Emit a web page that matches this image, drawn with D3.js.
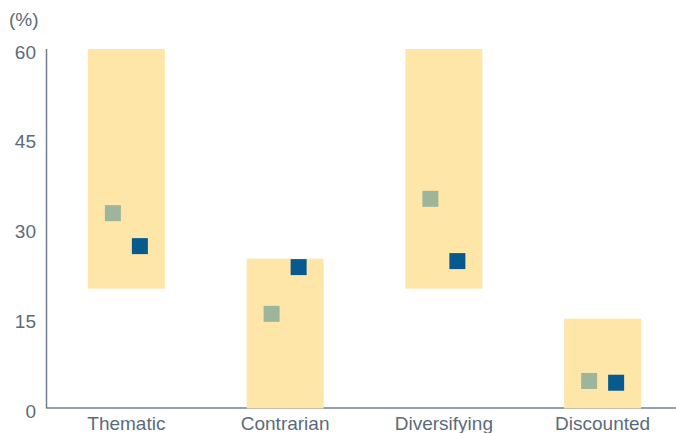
<!DOCTYPE html>
<html>
<head>
<meta charset="utf-8">
<script src="https://cdn.jsdelivr.net/npm/d3@7"></script>
<style>
  html, body { margin: 0; padding: 0; background: #fff; }
  svg { display: block; }
  text { font-family: "Liberation Sans", Arial, sans-serif; fill: #5b6b7b; }
</style>
</head>
<body>
<svg id="chart" width="676" height="433"></svg>
<script>
const categories = ["Thematic", "Contrarian", "Diversifying", "Discounted"];
const rangeLow  = [20, 0, 20, 0];
const rangeHigh = [60, 25, 60, 15];
const seriesA = [32.6, 15.8, 35.0, 4.6];   // light grey-green squares
const seriesB = [27.1, 23.6, 24.6, 4.3];   // dark blue squares
const yTicks = [0, 15, 30, 45, 60];
const yUnit = "(%)";

(function () {
const svg = d3.select("#chart");
const W = 676, H = 433;
const mLeft = 47, mRight = 682, mTop = 49, mBottom = 408.5;

const x = d3.scaleBand().domain(categories).range([mLeft, mRight])
  .paddingInner(0.515).paddingOuter(0.2575);
const y = d3.scaleLinear().domain([0, 60]).range([mBottom, mTop]);

const data = categories.map((c, i) => ({
  cat: c, lo: rangeLow[i], hi: rangeHigh[i], a: seriesA[i], b: seriesB[i]
}));

// x axis baseline
svg.append("line")
  .attr("x1", mLeft).attr("x2", W)
  .attr("y1", y(0) - 0.5).attr("y2", y(0) - 0.5)
  .attr("stroke", "#6f7f8f").attr("stroke-width", 1.5);

// range bars
svg.append("g").selectAll("rect").data(data).join("rect")
  .attr("x", d => x(d.cat))
  .attr("width", x.bandwidth())
  .attr("y", d => y(d.hi))
  .attr("height", d => y(d.lo) - y(d.hi))
  .attr("fill", "#fee6a9");

// y axis line
svg.append("line")
  .attr("x1", mLeft - 0.5).attr("x2", mLeft - 0.5)
  .attr("y1", y(60)).attr("y2", y(0))
  .attr("stroke", "#6f7f8f").attr("stroke-width", 1.5);

const sq = 16;
const off = 13.5;
svg.append("g").selectAll("rect").data(data).join("rect")
  .attr("x", d => x(d.cat) + x.bandwidth() / 2 - off - sq / 2)
  .attr("y", d => y(d.a) - sq / 2)
  .attr("width", sq).attr("height", sq)
  .attr("fill", "#9cb59b");

svg.append("g").selectAll("rect").data(data).join("rect")
  .attr("x", d => x(d.cat) + x.bandwidth() / 2 + off - sq / 2)
  .attr("y", d => y(d.b) - sq / 2)
  .attr("width", sq).attr("height", sq)
  .attr("fill", "#065a8e");

// y tick labels
svg.append("g").selectAll("text").data(yTicks).join("text")
  .attr("x", 36)
  .attr("y", d => y(d) + 9.5)
  .attr("text-anchor", "end")
  .attr("font-size", 19)
  .text(d => d);

// unit label
svg.append("text")
  .attr("x", 9).attr("y", 26)
  .attr("font-size", 19)
  .text(yUnit);

// category labels
svg.append("g").selectAll("text").data(categories).join("text")
  .attr("x", d => x(d) + x.bandwidth() / 2)
  .attr("y", 430)
  .attr("text-anchor", "middle")
  .attr("font-size", 19)
  .text(d => d);
})();
</script>
</body>
</html>
